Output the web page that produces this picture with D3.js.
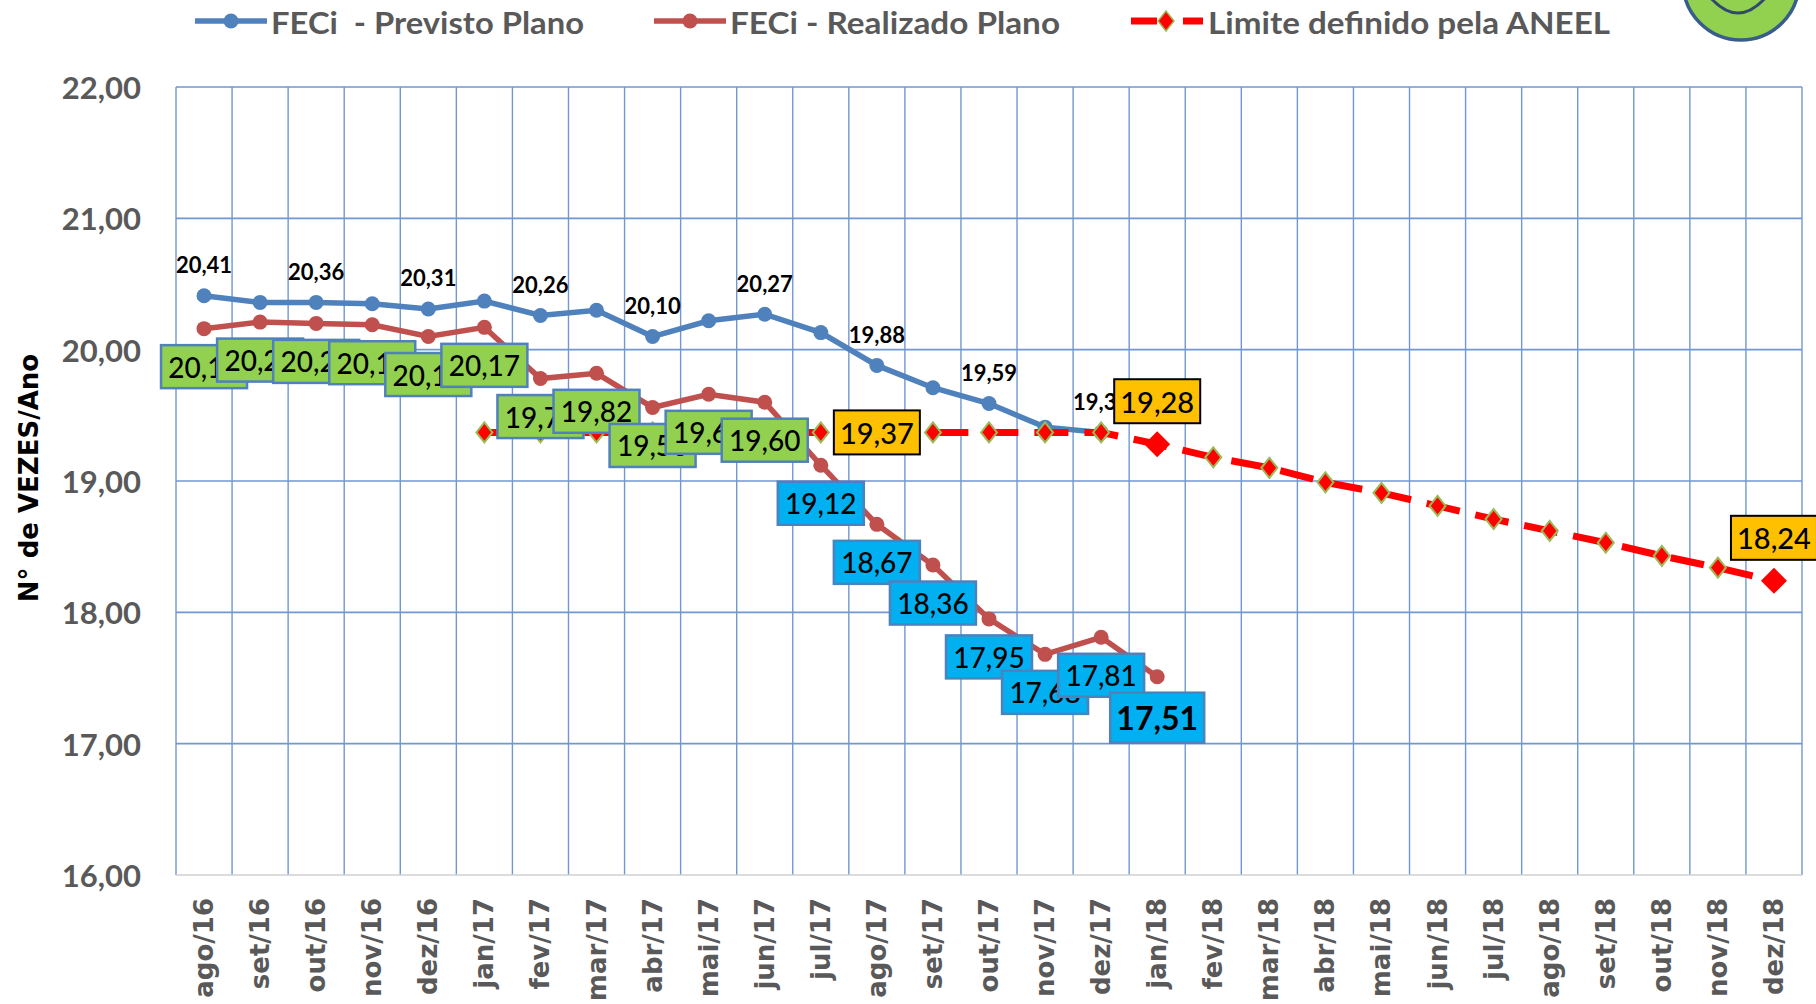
<!DOCTYPE html>
<html>
<head>
<meta charset="utf-8">
<script src="https://d3js.org/d3.v7.min.js"></script>
<style>
  body { margin: 0; background: #fff; }
  svg { display: block; }
  text { font-family: Lato, "Open Sans", sans-serif; }
</style>
</head>
<body>
<div id="chart"></div>
<script>
// months on the x axis
const categories = ['ago/16','set/16','out/16','nov/16','dez/16',
  'jan/17','fev/17','mar/17','abr/17','mai/17','jun/17','jul/17','ago/17','set/17','out/17','nov/17','dez/17',
  'jan/18','fev/18','mar/18','abr/18','mai/18','jun/18','jul/18','ago/18','set/18','out/18','nov/18','dez/18'];
const yTicks = [16, 17, 18, 19, 20, 21, 22];

// FECi - Previsto Plano (ago/16 .. dez/17)
const previsto = [20.41, 20.36, 20.36, 20.35, 20.31, 20.37, 20.26, 20.30, 20.10, 20.22, 20.27, 20.13,
  19.88, 19.71, 19.59, 19.41, 19.37];
// FECi - Realizado Plano (ago/16 .. jan/18)
const realizado = [20.16, 20.21, 20.20, 20.19, 20.10, 20.17, 19.78, 19.82, 19.56, 19.66, 19.60,
  19.12, 18.67, 18.36, 17.95, 17.68, 17.81, 17.51];
// Limite definido pela ANEEL (jan/17 .. dez/18)
const limite = [null, null, null, null, null,
  19.37, 19.37, 19.37, 19.37, 19.37, 19.37, 19.37, 19.37, 19.37, 19.37, 19.37, 19.37,
  19.28, 19.18, 19.10, 18.99, 18.91, 18.81, 18.71, 18.62, 18.53, 18.43, 18.34, 18.24];

// which points carry a label
const previstoLabels = [0, 2, 4, 6, 8, 10, 12, 14, 16];
const limiteLabels = [12, 17, 28];
const bigDiamonds = [17, 28];

const W = 1816, H = 1004;
const svg = d3.select('#chart').append('svg').attr('width', W).attr('height', H);

const x = d3.scaleBand().domain(categories).range([176, 1802]);
const y = d3.scaleLinear().domain([16, 22]).range([875, 87]);
const cx = i => x(categories[i]) + x.bandwidth() / 2;
const fmt = v => d3.format('.2f')(v).replace('.', ',');

const gridColor = '#7097d2';

// grid
svg.append('g').selectAll('line.v')
  .data(categories.concat(['end']))
  .join('line')
  .attr('x1', (d, i) => 176 + i * x.bandwidth())
  .attr('x2', (d, i) => 176 + i * x.bandwidth())
  .attr('y1', y(22)).attr('y2', y(16))
  .attr('stroke', gridColor).attr('stroke-width', 1.4);

svg.append('g').selectAll('line.h')
  .data(yTicks)
  .join('line')
  .attr('x1', 176).attr('x2', 1802)
  .attr('y1', d => y(d)).attr('y2', d => y(d))
  .attr('stroke', d => d === 16 ? '#d0d0d0' : gridColor).attr('stroke-width', 1.6);

// y axis labels
svg.append('g').selectAll('text')
  .data(yTicks)
  .join('text')
  .attr('x', 141).attr('y', d => y(d))
  .attr('text-anchor', 'end').attr('dominant-baseline', 'central')
  .attr('font-size', 31).attr('font-weight', 700).attr('fill', '#595959')
  .text(d => fmt(d));

svg.append('text')
  .attr('transform', 'translate(29,478) rotate(-90)')
  .attr('text-anchor', 'middle').attr('dominant-baseline', 'central')
  .style('font-family', '"DejaVu Sans", sans-serif')
  .attr('font-size', 26).attr('font-weight', 700).attr('fill', '#000')
  .text('N° de VEZES/Ano');

// x axis labels
svg.append('g').selectAll('text')
  .data(categories)
  .join('text')
  .attr('transform', (d, i) => `translate(${cx(i)},898) rotate(-90)`)
  .attr('text-anchor', 'end').attr('dominant-baseline', 'central')
  .style('font-family', '"DejaVu Sans", sans-serif')
  .attr('font-size', 26).attr('font-weight', 700).attr('fill', '#595959')
  .text(d => d);

const line = d3.line()
  .defined(d => d != null)
  .x((d, i) => cx(i))
  .y(d => y(d));

// previsto
svg.append('path').datum(previsto)
  .attr('d', line).attr('fill', 'none')
  .attr('stroke', '#4f81bd').attr('stroke-width', 5.5);
svg.append('g').selectAll('circle')
  .data(previsto)
  .join('circle')
  .attr('cx', (d, i) => cx(i)).attr('cy', d => y(d)).attr('r', 7.5)
  .attr('fill', '#4f81bd');

// realizado
svg.append('path').datum(realizado)
  .attr('d', line).attr('fill', 'none')
  .attr('stroke', '#c0504d').attr('stroke-width', 5.5);
svg.append('g').selectAll('circle')
  .data(realizado)
  .join('circle')
  .attr('cx', (d, i) => cx(i)).attr('cy', d => y(d)).attr('r', 7.5)
  .attr('fill', '#c0504d');

// limite ANEEL
svg.append('path').datum(limite)
  .attr('d', line).attr('fill', 'none')
  .attr('stroke', '#ff0000').attr('stroke-width', 7)
  .attr('stroke-dasharray', '34,16');

const diamond = (s) => `M0,${-s}L${s * 0.8},0L0,${s}L${-s * 0.8},0Z`;
svg.append('g').selectAll('path')
  .data(limite.map((v, i) => ({ v, i })).filter(d => d.v != null))
  .join('path')
  .attr('transform', d => `translate(${cx(d.i)},${y(d.v)})`)
  .attr('d', d => bigDiamonds.includes(d.i) ? `M0,-13L13,0L0,13L-13,0Z` : diamond(10))
  .attr('fill', '#ff0000')
  .attr('stroke', d => bigDiamonds.includes(d.i) ? 'none' : '#9bbb59')
  .attr('stroke-width', 2);

// labels previsto (plain text above)
svg.append('g').selectAll('text')
  .data(previstoLabels)
  .join('text')
  .attr('x', i => cx(i)).attr('y', i => y(previsto[i]) - 31)
  .attr('text-anchor', 'middle').attr('dominant-baseline', 'central')
  .attr('font-size', 22).attr('font-weight', 700).attr('fill', '#000')
  .text(i => fmt(previsto[i]));

// labels realizado (boxes below the points)
const rl = svg.append('g').selectAll('g')
  .data(realizado.map((v, i) => ({ v, i })))
  .join('g')
  .attr('transform', d => `translate(${cx(d.i)},${y(d.v) + (d.i === 17 ? 41 : 38)})`);
rl.append('rect')
  .attr('x', d => d.i === 17 ? -47 : -43).attr('y', d => d.i === 17 ? -25 : -21.5)
  .attr('width', d => d.i === 17 ? 94 : 86).attr('height', d => d.i === 17 ? 50 : 43)
  .attr('fill', d => d.i <= 10 ? '#92d050' : '#00b0f0')
  .attr('stroke', '#4f81bd').attr('stroke-width', 2.5);
rl.append('text')
  .attr('text-anchor', 'middle').attr('dominant-baseline', 'central')
  .attr('font-size', d => d.i === 17 ? 32 : 28)
  .attr('font-weight', d => d.i === 17 ? 700 : 500)
  .attr('fill', '#000')
  .text(d => fmt(d.v));

// labels limite (yellow boxes)
const ll = svg.append('g').selectAll('g')
  .data(limiteLabels)
  .join('g')
  .attr('transform', i => `translate(${cx(i)},${y(limite[i]) - (i === 12 ? 0 : 43)})`);
ll.append('rect')
  .attr('x', -43).attr('y', -22).attr('width', 86).attr('height', 44)
  .attr('fill', '#ffc000').attr('stroke', '#000').attr('stroke-width', 2);
ll.append('text')
  .attr('text-anchor', 'middle').attr('dominant-baseline', 'central')
  .attr('font-size', 29).attr('font-weight', 500).attr('fill', '#000')
  .text(i => fmt(limite[i]));

// legend
const legend = svg.append('g');
const legendItems = [
  { name: 'FECi  - Previsto Plano', color: '#4f81bd', x0: 195, tx: 271, len: 313, kind: 'circle' },
  { name: 'FECi - Realizado Plano', color: '#c0504d', x0: 654, tx: 730, len: 330, kind: 'circle' },
  { name: 'Limite definido pela ANEEL', color: '#ff0000', x0: 1131, tx: 1208, len: 402, kind: 'diamond' }
];
legendItems.forEach(it => {
  if (it.kind === 'circle') {
    legend.append('line').attr('x1', it.x0).attr('x2', it.x0 + 72).attr('y1', 21).attr('y2', 21)
      .attr('stroke', it.color).attr('stroke-width', 5.5);
    legend.append('circle').attr('cx', it.x0 + 36).attr('cy', 21).attr('r', 7.5).attr('fill', it.color);
  } else {
    legend.append('line').attr('x1', it.x0).attr('x2', it.x0 + 72).attr('y1', 21).attr('y2', 21)
      .attr('stroke', it.color).attr('stroke-width', 7).attr('stroke-dasharray', '26,26,20');
    legend.append('path').attr('transform', `translate(${it.x0 + 35},21)`).attr('d', diamond(10))
      .attr('fill', '#ff0000').attr('stroke', '#9bbb59').attr('stroke-width', 1.5);
  }
  legend.append('text')
    .attr('x', it.tx).attr('y', 22)
    .attr('dominant-baseline', 'central')
    .style('white-space', 'pre')
    .attr('font-size', 30).attr('font-weight', 700).attr('fill', '#595959')
    .attr('textLength', it.len).attr('lengthAdjust', 'spacingAndGlyphs')
    .text(it.name);
});

// logo in the corner
const logo = svg.append('g');
logo.append('circle').attr('cx', 1741).attr('cy', -18).attr('r', 58)
  .attr('fill', '#92d050').attr('stroke', '#385d8a').attr('stroke-width', 3.5);
logo.append('path').attr('d', 'M1709,-4 Q1738,30 1767,-4')
  .attr('fill', 'none').attr('stroke', '#2f4a6d').attr('stroke-width', 3);
</script>
</body>
</html>
